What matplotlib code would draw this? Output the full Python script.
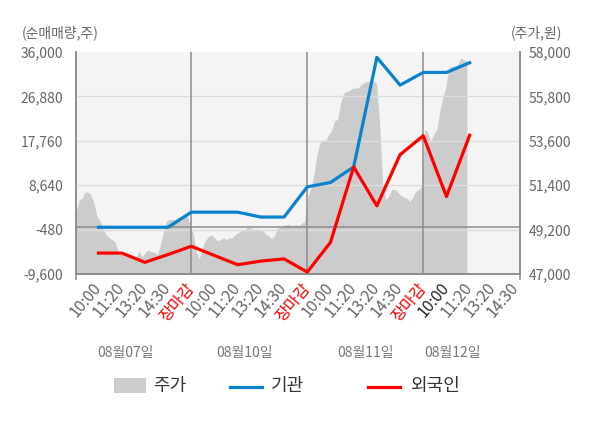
import numpy as np
import matplotlib
matplotlib.use("Agg")
import matplotlib.pyplot as plt
from matplotlib import transforms
from matplotlib.patches import Rectangle
from matplotlib.lines import Line2D

plt.rcParams['font.family'] = ['Noto Sans CJK KR', 'DejaVu Sans']

# ---------------- data ----------------
tick_labels = ['10:00', '11:20', '13:20', '14:30', '장마감',
               '10:00', '11:20', '13:20', '14:30', '장마감',
               '10:00', '11:20', '13:20', '14:30', '장마감',
               '10:00', '11:20', '13:20', '14:30']
dates = ['08월07일', '08월10일', '08월11일', '08월12일']
date_pos = [1.14, 6.31, 11.49, 15.24]
day_breaks = [4, 9, 14]

# 기관 / 외국인 net buying (shares) at ticks 0..16
inst = [0, 0, 0, 0, 3100, 3100, 3100, 2100, 2100,
        8300, 9200, 12400, 34900, 29200, 31800, 31800, 33800]
foreign = [-5300, -5300, -7200, -5600, -3900, -5800, -7700, -6950, -6500,
           -9200, -3100, 12400, 4400, 14900, 18800, 6300, 18900]

# stock price (won), sampled evenly from start of 08/07 to latest on 08/12
price = [50050, 50650, 50750, 51050, 51050, 50900, 50500, 49850, 49650, 49200,
         48950, 48800, 48700, 48600, 48100, 48000, 47950, 47850, 47800, 47700,
         47850, 48150, 47850, 48050, 48200, 48100, 48100, 47950, 48400, 49050,
         49600, 49700, 49700, 49700, 49800, 49850, 49950, 49900, 49400, 49000,
         48100, 47750, 48300, 48650, 48850, 48950, 48800, 48650, 48700, 48800,
         48700, 48800, 48800, 48950, 49050, 49150, 49200, 49300, 49300, 49200,
         49250, 49200, 49150, 49000, 48900, 48750, 48900, 49250, 49350, 49400,
         49450, 49450, 49400, 49450, 49400, 49500, 49600, 50800, 51200, 51800,
         52800, 53450, 53650, 53600, 53900, 54100, 54600, 54650, 55450, 55950,
         56050, 56100, 56200, 56200, 56250, 56400, 56500, 56550, 56500, 56600,
         56400, 54400, 51500, 50700, 50850, 51200, 51200, 51050, 50900, 50800,
         50750, 50600, 50800, 51100, 51200, 51350, 54200, 54000, 53550, 53950,
         54150, 55100, 55750, 56250, 57200, 57300, 57300, 57400, 57700, 57600,
         57550]
price_start, price_end = -0.97, 15.88

left_ticks = [-9600, -480, 8640, 17760, 26880, 36000]
right_ticks = [47000, 49200, 51400, 53600, 55800, 58000]

# ---------------- figure ----------------
fig = plt.figure(figsize=(6.0, 4.28), dpi=100)
fig.patch.set_facecolor('white')
ax = fig.add_axes([76/600, 1-274/428, 444/600, 222/428])
ax2 = ax.twinx()

GRAY_TXT = '#666666'
AX_COL = '#8c8c8c'

ax2.set_zorder(1)
ax.set_zorder(2)
ax.patch.set_visible(False)
ax2.patch.set_visible(True)
ax2.patch.set_facecolor('#f4f4f4')

xp = np.linspace(price_start, price_end, len(price))
ax2.fill_between(xp, price, 47000, color='#cccccc', lw=0)
ax2.set_ylim(47000, 58000)
ax2.set_yticks(right_ticks)
ax2.set_yticklabels([f'{v:,}' for v in right_ticks])

xlim = (-0.97, 18.17)
ax.set_xlim(*xlim)
ax.set_ylim(-9600, 36000)
ax.set_yticks(left_ticks)
ax.set_yticklabels([f'{v:,}' for v in left_ticks])

# grid
for v in left_ticks[1:-1]:
    ax.axhline(v, color='#dcdcdc', lw=1, zorder=0.5)
ax.axhline(0, color=AX_COL, lw=1.1, zorder=1)
for b in day_breaks:
    ax.axvline(b, color=AX_COL, lw=1.1, zorder=1)

k = np.arange(len(inst))
ax.plot(k, inst, color='#0a82cc', lw=2.3, zorder=3)
ax.plot(k, foreign, color='#ff0000', lw=2.3, zorder=3)

for a in (ax, ax2):
    a.spines['top'].set_visible(False)
    for s in ('left', 'right', 'bottom'):
        a.spines[s].set_color(AX_COL)
        a.spines[s].set_linewidth(1.1)

ax.tick_params(axis='y', length=0, pad=9, labelsize=10, labelcolor=GRAY_TXT)
ax2.tick_params(axis='y', length=0, pad=6, labelsize=10, labelcolor=GRAY_TXT)

ax.set_xticks(range(len(tick_labels)))
ax.set_xticklabels(tick_labels, rotation=50, ha='right', va='center',
                   rotation_mode='anchor', fontsize=11.5)
ax.tick_params(axis='x', length=0, pad=8, labelcolor=GRAY_TXT)
for i, t in enumerate(ax.get_xticklabels()):
    if tick_labels[i] == '장마감':
        t.set_color('#ff0000')
    elif i == 15:
        t.set_color('#222222')
ax.set_xticks([xlim[0]] + day_breaks + [xlim[1]], minor=True)
ax.tick_params(axis='x', which='minor', length=4, width=1.1, color=AX_COL)

trans = transforms.blended_transform_factory(ax.transData, fig.transFigure)
for d, p in zip(dates, date_pos):
    ax.text(p, 1-353/428, d, transform=trans, ha='center', va='center',
            fontsize=10, color='#777777', clip_on=False)

fig.text(22/600, 1-33/428, '(순매매량,주)', ha='left', va='center',
         fontsize=10, color=GRAY_TXT)
fig.text(562/600, 1-33/428, '(주가,원)', ha='right', va='center',
         fontsize=10, color=GRAY_TXT)

W, H = 600, 428
fig.add_artist(Rectangle((114/W, 1-393/H), 32/W, 15/H, transform=fig.transFigure,
                         facecolor='#cccccc', edgecolor='none'))
fig.text(153/W, 1-386/H, '주가', ha='left', va='center', fontsize=13, color='#333333')
fig.add_artist(Line2D([230/W, 262/W], [1-387/H, 1-387/H], transform=fig.transFigure,
                      color='#0a82cc', lw=2.3))
fig.text(271/W, 1-386/H, '기관', ha='left', va='center', fontsize=13, color='#333333')
fig.add_artist(Line2D([368/W, 400/W], [1-387/H, 1-387/H], transform=fig.transFigure,
                      color='#ff0000', lw=2.3))
fig.text(410/W, 1-386/H, '외국인', ha='left', va='center', fontsize=13, color='#333333')

fig.savefig('out.png', dpi=100, facecolor='white')
